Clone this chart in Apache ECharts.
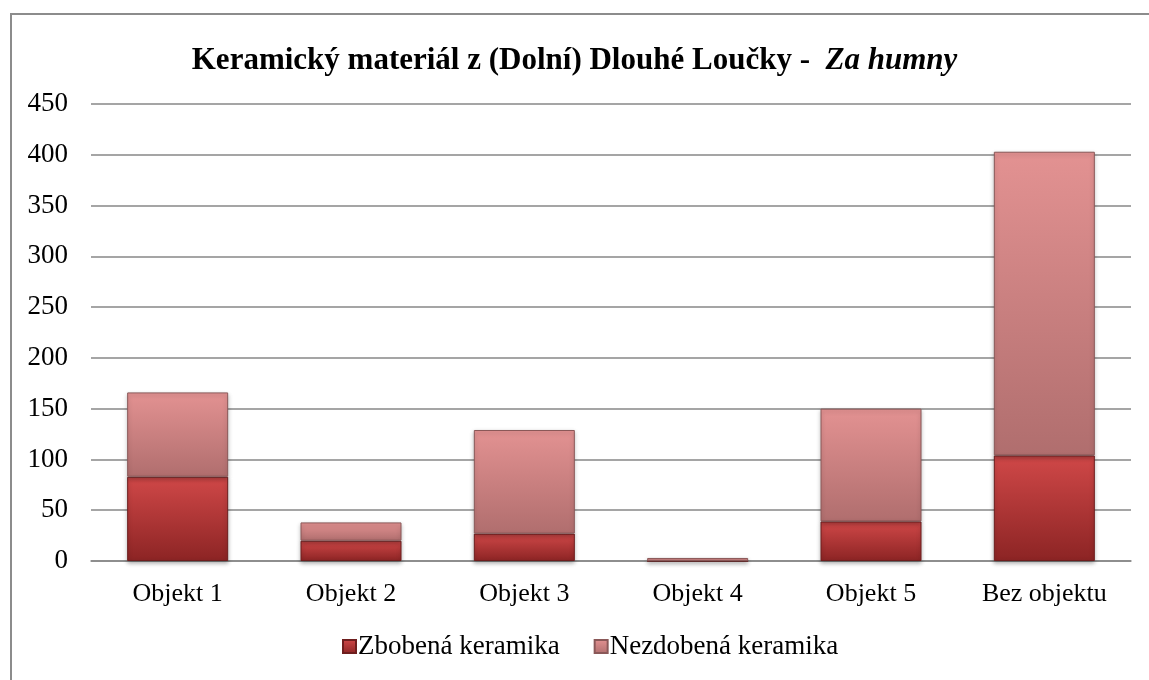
<!DOCTYPE html>
<html lang="cs">
<head>
    <meta charset="utf-8">
    <title>Keramický materiál z (Dolní) Dlouhé Loučky</title>
    <script src="https://cdn.jsdelivr.net/npm/echarts@6/dist/echarts.min.js"></script>
    <style>
        html, body { margin: 0; padding: 0; background: #fff; }
        #chart { width: 1149px; height: 680px; }
    </style>
</head>
<body>
<div id="chart"></div>
<script type="text/javascript">
    // data
    var categories = ['Objekt 1', 'Objekt 2', 'Objekt 3', 'Objekt 4', 'Objekt 5', 'Bez objektu'];
    var zdobena = [83, 20, 27, 0, 39, 104];
    var nezdobena = [83, 18, 102, 3, 111, 299];
    var seriesNames = ['Zbobená keramika', 'Nezdobená keramika'];

    var font = '"Liberation Serif", "Times New Roman", serif';

    function grad(top, bottom) {
        return new echarts.graphic.LinearGradient(0, 0, 0, 1, [
            {offset: 0, color: top},
            {offset: 1, color: bottom}
        ]);
    }

    var myChart = echarts.init(document.getElementById('chart'));
    var option = {
        backgroundColor: '#fff',
        animation: false,
        title: {
            text: '{b|Keramický materiál z (Dolní) Dlouhé Loučky -  }{i|Za humny}',
            left: 'center',
            top: 40,
            textStyle: {
                rich: {
                    b: {fontFamily: font, fontSize: 31, fontWeight: 'bold', color: '#000'},
                    i: {fontFamily: font, fontSize: 31, fontWeight: 'bold', fontStyle: 'italic', color: '#000'}
                }
            }
        },
        graphic: [{
            type: 'rect',
            shape: {x: 11, y: 14, width: 1160, height: 700},
            style: {fill: 'none', stroke: '#8c8c8c', lineWidth: 2},
            silent: true
        }],
        legend: {
            top: 628,
            left: 337,
            itemWidth: 13,
            itemHeight: 13,
            itemGap: 34,
            icon: 'rect',
            textStyle: {fontFamily: font, fontSize: 27, color: '#000', padding: [0, 0, 0, -3]},
            data: seriesNames
        },
        grid: {left: 91, right: 18, top: 104, bottom: 119},
        xAxis: {
            type: 'category',
            data: categories,
            axisTick: {show: false},
            axisLine: {show: true, lineStyle: {color: '#878787', width: 1.5}},
            axisLabel: {fontFamily: font, fontSize: 26, color: '#000', margin: 20}
        },
        yAxis: {
            type: 'value',
            min: 0,
            max: 450,
            interval: 50,
            axisLine: {show: false},
            axisTick: {show: false},
            axisLabel: {fontFamily: font, fontSize: 27, color: '#000', margin: 23},
            splitLine: {lineStyle: {color: '#878787', width: 1.5}}
        },
        series: [{
            name: seriesNames[0],
            type: 'bar',
            stack: 'total',
            barWidth: 101,
            data: zdobena,
            itemStyle: {
                color: grad('#d04848', '#8c2424'),
                borderColor: '#6e1e1e',
                borderWidth: 1,
                shadowBlur: 4,
                shadowOffsetY: 2,
                shadowColor: 'rgba(0,0,0,0.3)'
            }
        }, {
            name: seriesNames[1],
            type: 'bar',
            stack: 'total',
            barWidth: 101,
            data: nezdobena,
            itemStyle: {
                color: grad('#e39292', '#b06e6e'),
                borderColor: '#8a5858',
                borderWidth: 1,
                shadowBlur: 4,
                shadowOffsetY: 2,
                shadowColor: 'rgba(0,0,0,0.25)'
            }
        }]
    };
    myChart.setOption(option);
</script>
</body>
</html>
